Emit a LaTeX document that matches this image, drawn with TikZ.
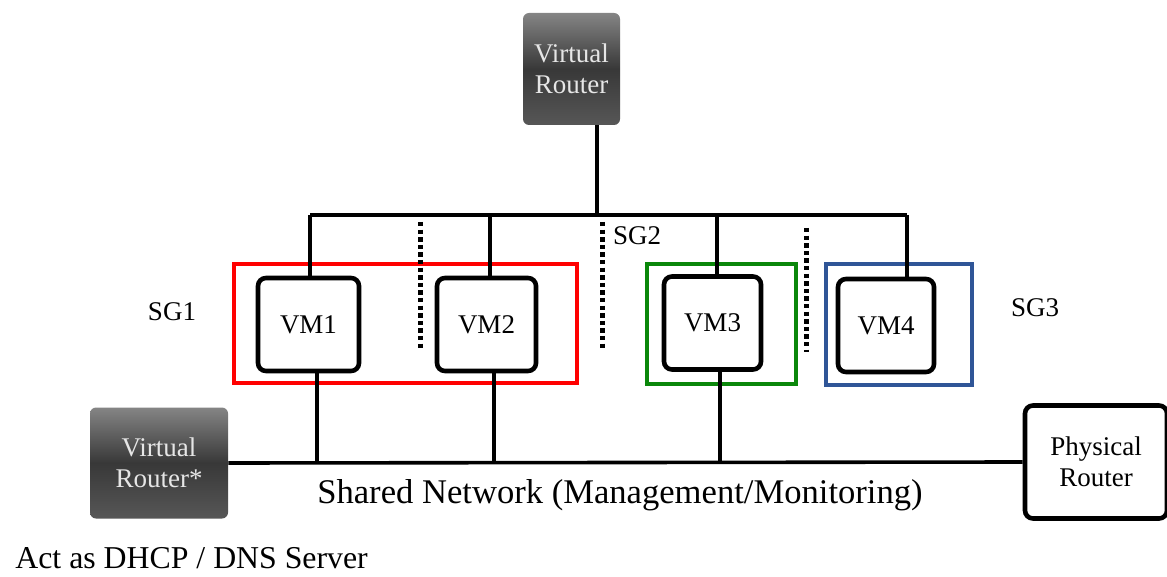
\documentclass[tikz,border=0pt]{standalone}
\usepackage{fontspec}
\setmainfont{Liberation Serif}
\definecolor{sgred}{HTML}{FF0000}
\definecolor{sggreen}{HTML}{0A870A}
\definecolor{sgblue}{HTML}{2F5597}
\definecolor{rtext}{HTML}{E6E6E6}
\begin{document}
\begin{tikzpicture}[x=0.5pt,y=-0.5pt]
        \useasboundingbox (0,0) rectangle (1167,577);

        % security group frames
        \begin{scope}[every node/.style={rectangle,line width=2pt,inner sep=0pt}]
            \node[draw=sgred,minimum width=171.5pt,minimum height=59.5pt] (G1) at (405.5,323.5) {};
            \node[draw=sggreen,minimum width=74.5pt,minimum height=60pt] (G2) at (721.5,324) {};
            \node[draw=sgblue,minimum width=73pt,minimum height=60.5pt] (G3) at (899,324.5) {};
        \end{scope}

        % virtual machines
        \begin{scope}[every node/.style={rectangle,rounded corners=4pt,line width=2.3pt,draw,fill=white,
                font=\fontsize{13.5}{16}\selectfont,minimum height=46.5pt}]
            \node[minimum width=50.5pt] (VM1) at (308.5,324.5) {VM1};
            \node[minimum width=49.5pt] (VM2) at (486.5,324.5) {VM2};
            \node[minimum width=48.5pt] (VM3) at (712.5,323) {VM3};
            \node[minimum width=48pt] (VM4) at (886,325.5) {VM4};
        \end{scope}

        % routers
        \begin{scope}[every node/.style={rectangle,rounded corners=3pt,align=center,text=rtext,
                font=\fontsize{13.5}{15.5}\selectfont,top color=black!48,bottom color=black!66,middle color=black!78}]
            \node[minimum width=48.5pt,minimum height=56pt] (VR) at (571.5,69) {Virtual\\Router};
            \node[minimum width=69pt,minimum height=55.5pt] (VRS) at (159,463) {Virtual\\Router*};
        \end{scope}
        \node[rectangle,rounded corners=4pt,line width=2.3pt,draw,fill=white,align=center,
            font=\fontsize{13.5}{15.5}\selectfont,minimum width=71pt,minimum height=56.5pt] (PR) at (1096,462) {Physical\\Router};

        % bus points
        \coordinate (T0) at (597,215);
        \coordinate (T1) at (310,215);
        \coordinate (T2) at (490,215);
        \coordinate (T3) at (717,215);
        \coordinate (T4) at (907,215);
        \coordinate (B1) at (317,462);
        \coordinate (B2) at (494,462);
        \coordinate (B3) at (720,462);

        \begin{scope}[every path/.style={line width=1.8pt}]
            \path (T0 |- VR.south) edge (T0);
            \path (T1) edge (T4);
            \path (T1) edge (T1 |- VM1.north);
            \path (T2) edge (T2 |- VM2.north);
            \path (T3) edge (T3 |- VM3.north);
            \path (T4) edge (T4 |- VM4.north);
            \path (VRS.east) edge (PR.west);
            \path (B1 |- VM1.south) edge (B1);
            \path (B2 |- VM2.south) edge (B2);
            \path (B3 |- VM3.south) edge (B3);
        \end{scope}

        % dotted separators
        \begin{scope}[every path/.style={line width=2.5pt,dash pattern=on 2.2pt off 1.6pt}]
            \coordinate (D1) at (420,222);
            \coordinate (D2) at (602,222);
            \coordinate (D3) at (806,228);
            \path (D1) edge (420,348);
            \path (D2) edge (602,348);
            \path (D3) edge (806,352);
        \end{scope}

        % labels
        \begin{scope}[every node/.style={font=\fontsize{13.5}{16}\selectfont}]
            \node (SG1) at (172,312) {SG1};
            \node (SG2) at (637,236) {SG2};
            \node (SG3) at (1035,308) {SG3};
        \end{scope}
        \node[font=\fontsize{17.3}{20}\selectfont] (SN) at (620,495) {Shared Network (Management/Monitoring)};
        \node[font=\fontsize{15.9}{19}\selectfont,anchor=west,inner sep=0pt] (DH) at (15,558) {Act as DHCP / DNS Server};
\end{tikzpicture}
\end{document}
